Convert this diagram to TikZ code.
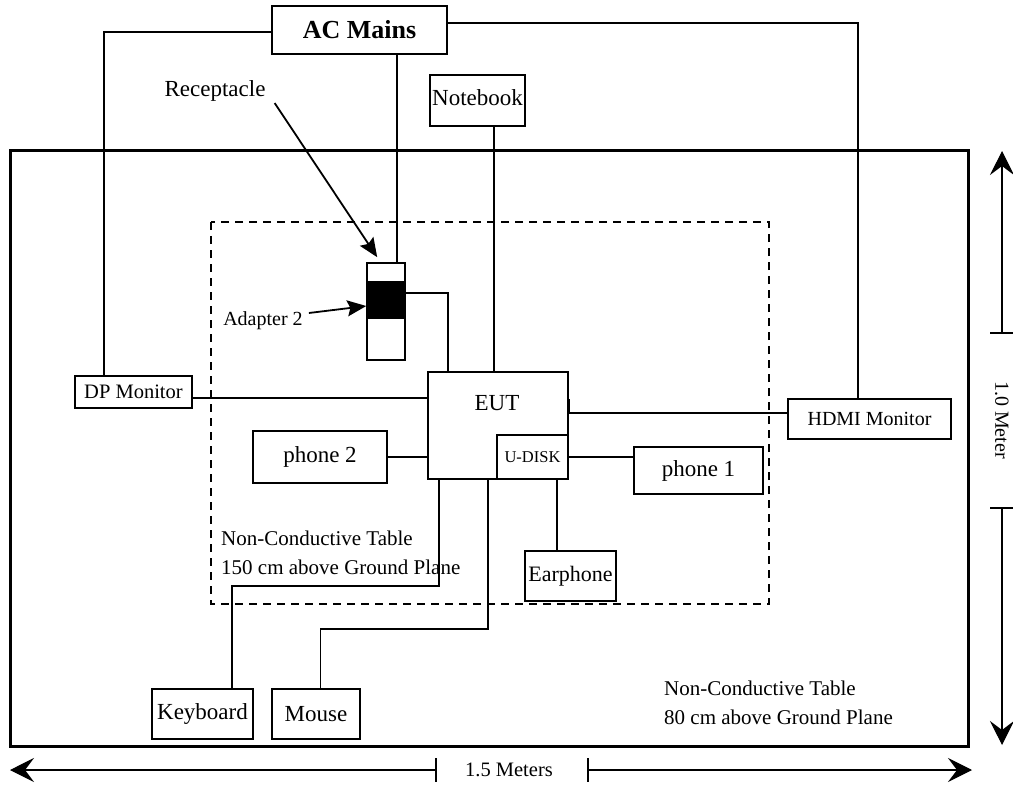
\documentclass[tikz,border=0pt]{standalone}
\usepackage{fontspec}
\setmainfont{Liberation Serif}
\usetikzlibrary{arrows.meta,calc}
\newcommand{\fsz}[1]{\fontsize{#1}{#1}\selectfont}
\begin{document}
\begin{tikzpicture}[x=1pt,y=-1pt,
  box/.style={draw, line width=1.6pt, inner sep=0pt, font=\fsz{23}},
  wire/.style={line width=1.5pt},
  ptr/.style={line width=1.8pt, -{Stealth[length=19pt,width=16pt,inset=3pt]}},
  dimline/.style={line width=1.1pt},
  dimtip/.style={-{Stealth[length=24pt,width=24pt,inset=9pt]}},
  plain/.style={inner sep=0pt}]
\useasboundingbox (0,0) rectangle (1013,789);
% tables
\draw[line width=3pt] (10,151) rectangle (968,746);
\draw[line width=1.5pt, dash pattern=on 8pt off 6pt] (211,222) rectangle (769,604);
% nodes
\node[box, minimum width=175, minimum height=48, font=\bfseries\fsz{26}] (ac) at (359.5,30) {AC Mains};
\node[plain, font=\fsz{23}] (rectxt) at (215,91) {Receptacle};
\node[box, minimum width=95, minimum height=51] (nb) at (477.5,100.5) {\raisebox{6pt}{Notebook}};
\node[box, minimum width=38, minimum height=97] (rec) at (386,311.5) {};
\node[draw, fill=black, line width=1.5pt, inner sep=0pt, minimum width=38, minimum height=36] (adp) at (386,300) {};
\node[plain, font=\fsz{20}] (adptxt) at (263,321) {Adapter 2};
\node[box, minimum width=117, minimum height=32, font=\fsz{20.5}] (dp) at (133.5,392) {DP Monitor};
\node[box, minimum width=140, minimum height=107] (eut) at (498,425.5) {};
\node[plain, font=\fsz{23}] (euttxt) at (497,403) {EUT};
\node[box, minimum width=71, minimum height=44, font=\fsz{16.5}] (udisk) at (532.5,457) {U-DISK};
\node[box, minimum width=134, minimum height=52] (ph2) at (320,457) {phone 2};
\node[box, minimum width=163, minimum height=40, font=\fsz{20}] (hdmi) at (869.5,419) {HDMI Monitor};
\node[box, minimum width=129, minimum height=47] (ph1) at (698.5,470.5) {phone 1};
\node[box, minimum width=91, minimum height=50, font=\fsz{22}] (ear) at (570.5,576) {Earphone};
\node[box, minimum width=101, minimum height=50] (kb) at (202.5,714) {Keyboard};
\node[box, minimum width=88, minimum height=50] (mouse) at (316,714) {Mouse};
\node[plain, anchor=west, align=left, font=\fontsize{21}{29.5}\selectfont] (t150) at (221,553) {Non-Conductive Table\\150 cm above Ground Plane};
\node[plain, anchor=west, align=left, font=\fontsize{21}{29.5}\selectfont] (t80) at (664,703) {Non-Conductive Table\\80 cm above Ground Plane};
% connectors
\draw[wire] ($(ac.west)+(0,2)$) -| ($(dp.north west)+(30,0)$);
\draw[wire] ($(ac.east)+(0,-7)$) -| ($(hdmi.north west)+(71,0)$);
\coordinate (r1) at ($(rec.north)+(11,0)$);
\draw[wire] (r1) -- (r1 |- ac.south);
\draw[wire] ($(adp.east)+(0,-7)$) -| ($(eut.north west)+(21,0)$);
\coordinate (n1) at ($(nb.south)+(16.5,0)$);
\draw[wire] (n1) -- (n1 |- eut.north);
\coordinate (d1) at ($(dp.east)+(0,6)$);
\draw[wire] (d1) -- (d1 -| eut.west);
\draw[wire] (ph2.east) -- (ph2.east -| eut.west);
\coordinate (e1) at ($(eut.north east)+(0,28)$);
\coordinate (e2) at ($(eut.north east)+(0,42)$);
\draw[wire] (e1) -- (e2) -- (e2 -| hdmi.west);
\draw[wire] (udisk.east) -- (udisk.east -| ph1.west);
\coordinate (k1) at ($(eut.south west)+(12,0)$);
\draw[wire] (k1) -- ++(0,106) -| ($(kb.north)+(29.5,0)$);
\coordinate (m1) at ($(eut.south west)+(61,0)$);
\draw[wire] (m1) -- ++(0,149) -| ($(mouse.north)+(4.3,0)$);
\coordinate (ea) at ($(eut.south west)+(130,0)$);
\draw[wire] (ea) -- (ea |- ear.north);
% pointers
\draw[ptr] ($(rectxt.east)+(9,12)$) -- ($(rec.north west)+(11,-5)$);
\draw[ptr] ($(adptxt.east)+(6,-8)$) -- ($(adp.west)+(0,6)$);
% dimensions
\node[plain, rotate=-90, font=\fsz{20}] (vlab) at (1002,420) {1.0 Meter};
\coordinate (vt) at (1002,151);
\coordinate (vu) at (1002,333);
\coordinate (vl) at (1002,508);
\coordinate (vb) at (1002,745);
\draw[dimline, dimtip] (vu) -- (vt);
\draw[dimline, dimtip] (vl) -- (vb);
\draw[dimline] ($(vu)+(-12,0)$) -- ($(vu)+(12,0)$);
\draw[dimline] ($(vl)+(-12,0)$) -- ($(vl)+(12,0)$);
\node[plain, font=\fsz{20.5}] (hlab) at (509,770) {1.5 Meters};
\coordinate (hl) at (10,770);
\coordinate (hu) at (436,770);
\coordinate (hv) at (588,770);
\coordinate (hr) at (972,770);
\draw[dimline, dimtip] (hu) -- (hl);
\draw[dimline, dimtip] (hv) -- (hr);
\draw[dimline] ($(hu)+(0,-12)$) -- ($(hu)+(0,12)$);
\draw[dimline] ($(hv)+(0,-12)$) -- ($(hv)+(0,12)$);
\end{tikzpicture}
\end{document}
